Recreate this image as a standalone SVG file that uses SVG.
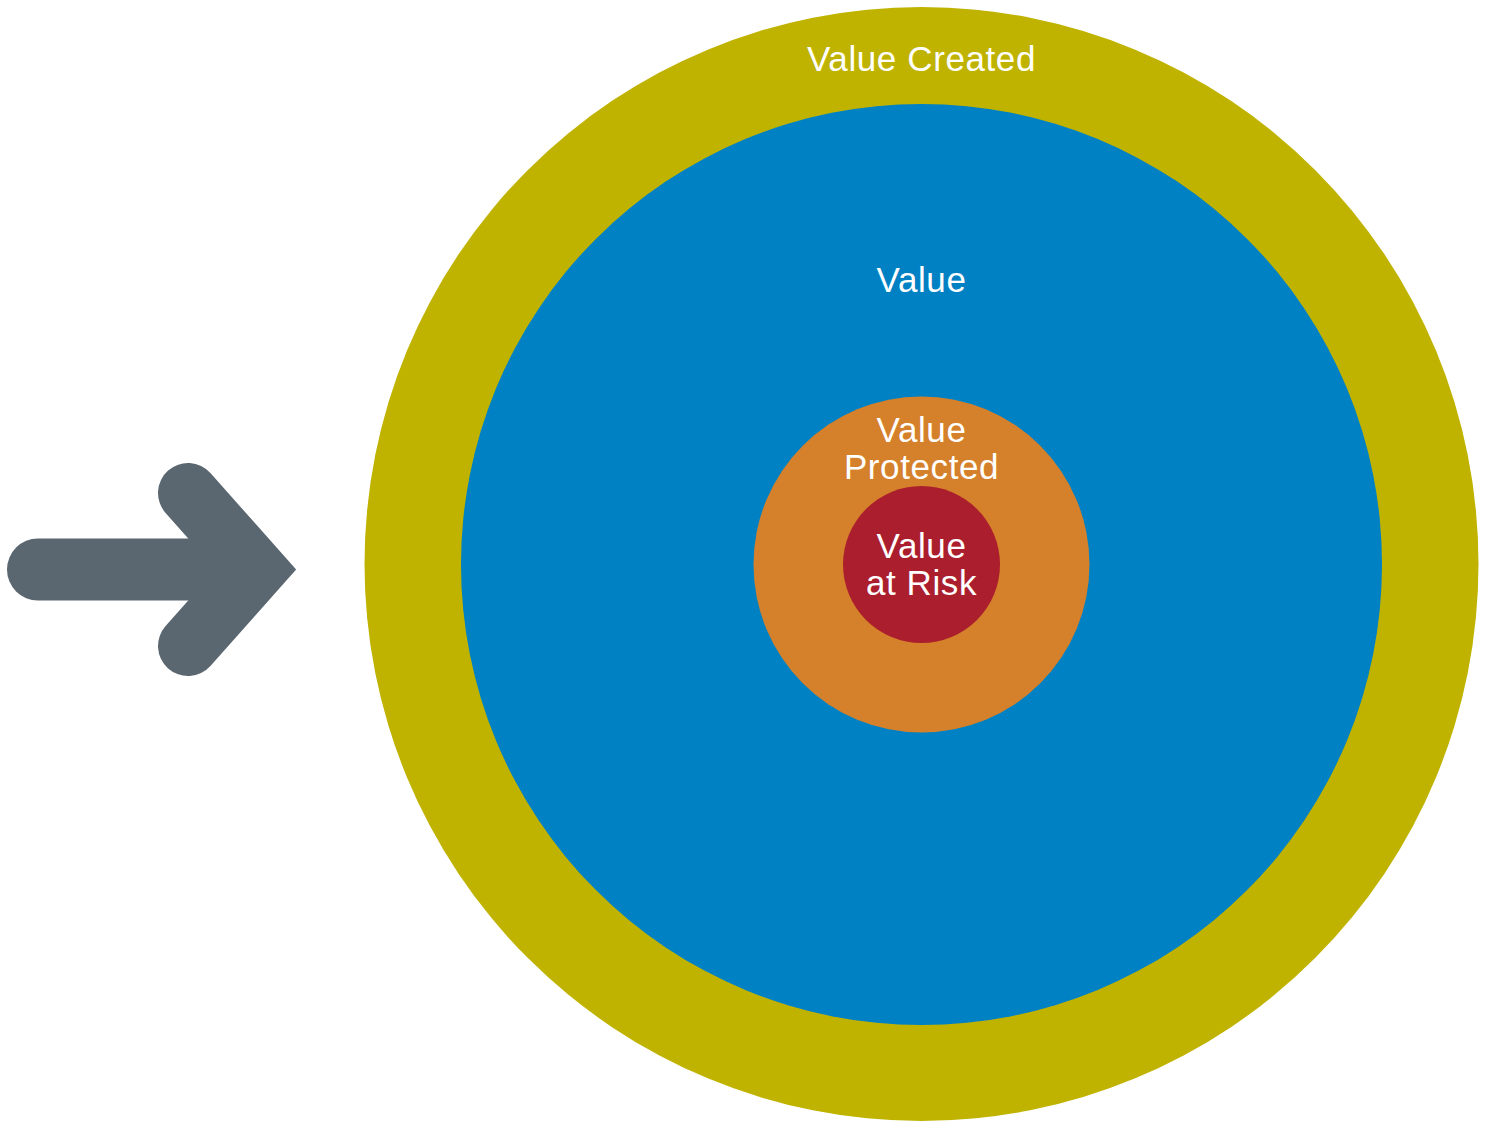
<svg xmlns="http://www.w3.org/2000/svg" width="1489" height="1123" viewBox="0 0 1489 1123">
  <style>
    .lbl { font-family: "Liberation Sans", Arial, sans-serif; font-size: 35px; letter-spacing: 0.6px; fill: #ffffff; text-anchor: middle; }
  </style>
  <rect width="1489" height="1123" fill="#ffffff"/>
  <g id="arrow" stroke="#5b6770" fill="none">
    <line x1="38" y1="569.5" x2="240" y2="569.5" stroke-width="62" stroke-linecap="round"/>
    <polyline points="188,493 256,569.5 188,646" stroke-width="60" stroke-linecap="round" stroke-linejoin="miter"/>
  </g>
  <g id="value-created">
    <circle cx="921.5" cy="564" r="557" fill="#bfb300"/>
    <text class="lbl" x="921.5" y="71">Value Created</text>
  </g>
  <g id="value">
    <circle cx="921.5" cy="564.5" r="460.5" fill="#0081c4"/>
    <text class="lbl" x="921.5" y="292">Value</text>
  </g>
  <g id="value-protected">
    <circle cx="921.5" cy="564.5" r="168" fill="#d5802a"/>
    <text class="lbl" x="921.5" y="442">Value</text>
    <text class="lbl" x="921.5" y="479">Protected</text>
  </g>
  <g id="value-at-risk">
    <circle cx="921.5" cy="564.5" r="78.5" fill="#ab1e2d"/>
    <text class="lbl" x="921.5" y="558">Value</text>
    <text class="lbl" x="921.5" y="595">at Risk</text>
  </g>
</svg>
